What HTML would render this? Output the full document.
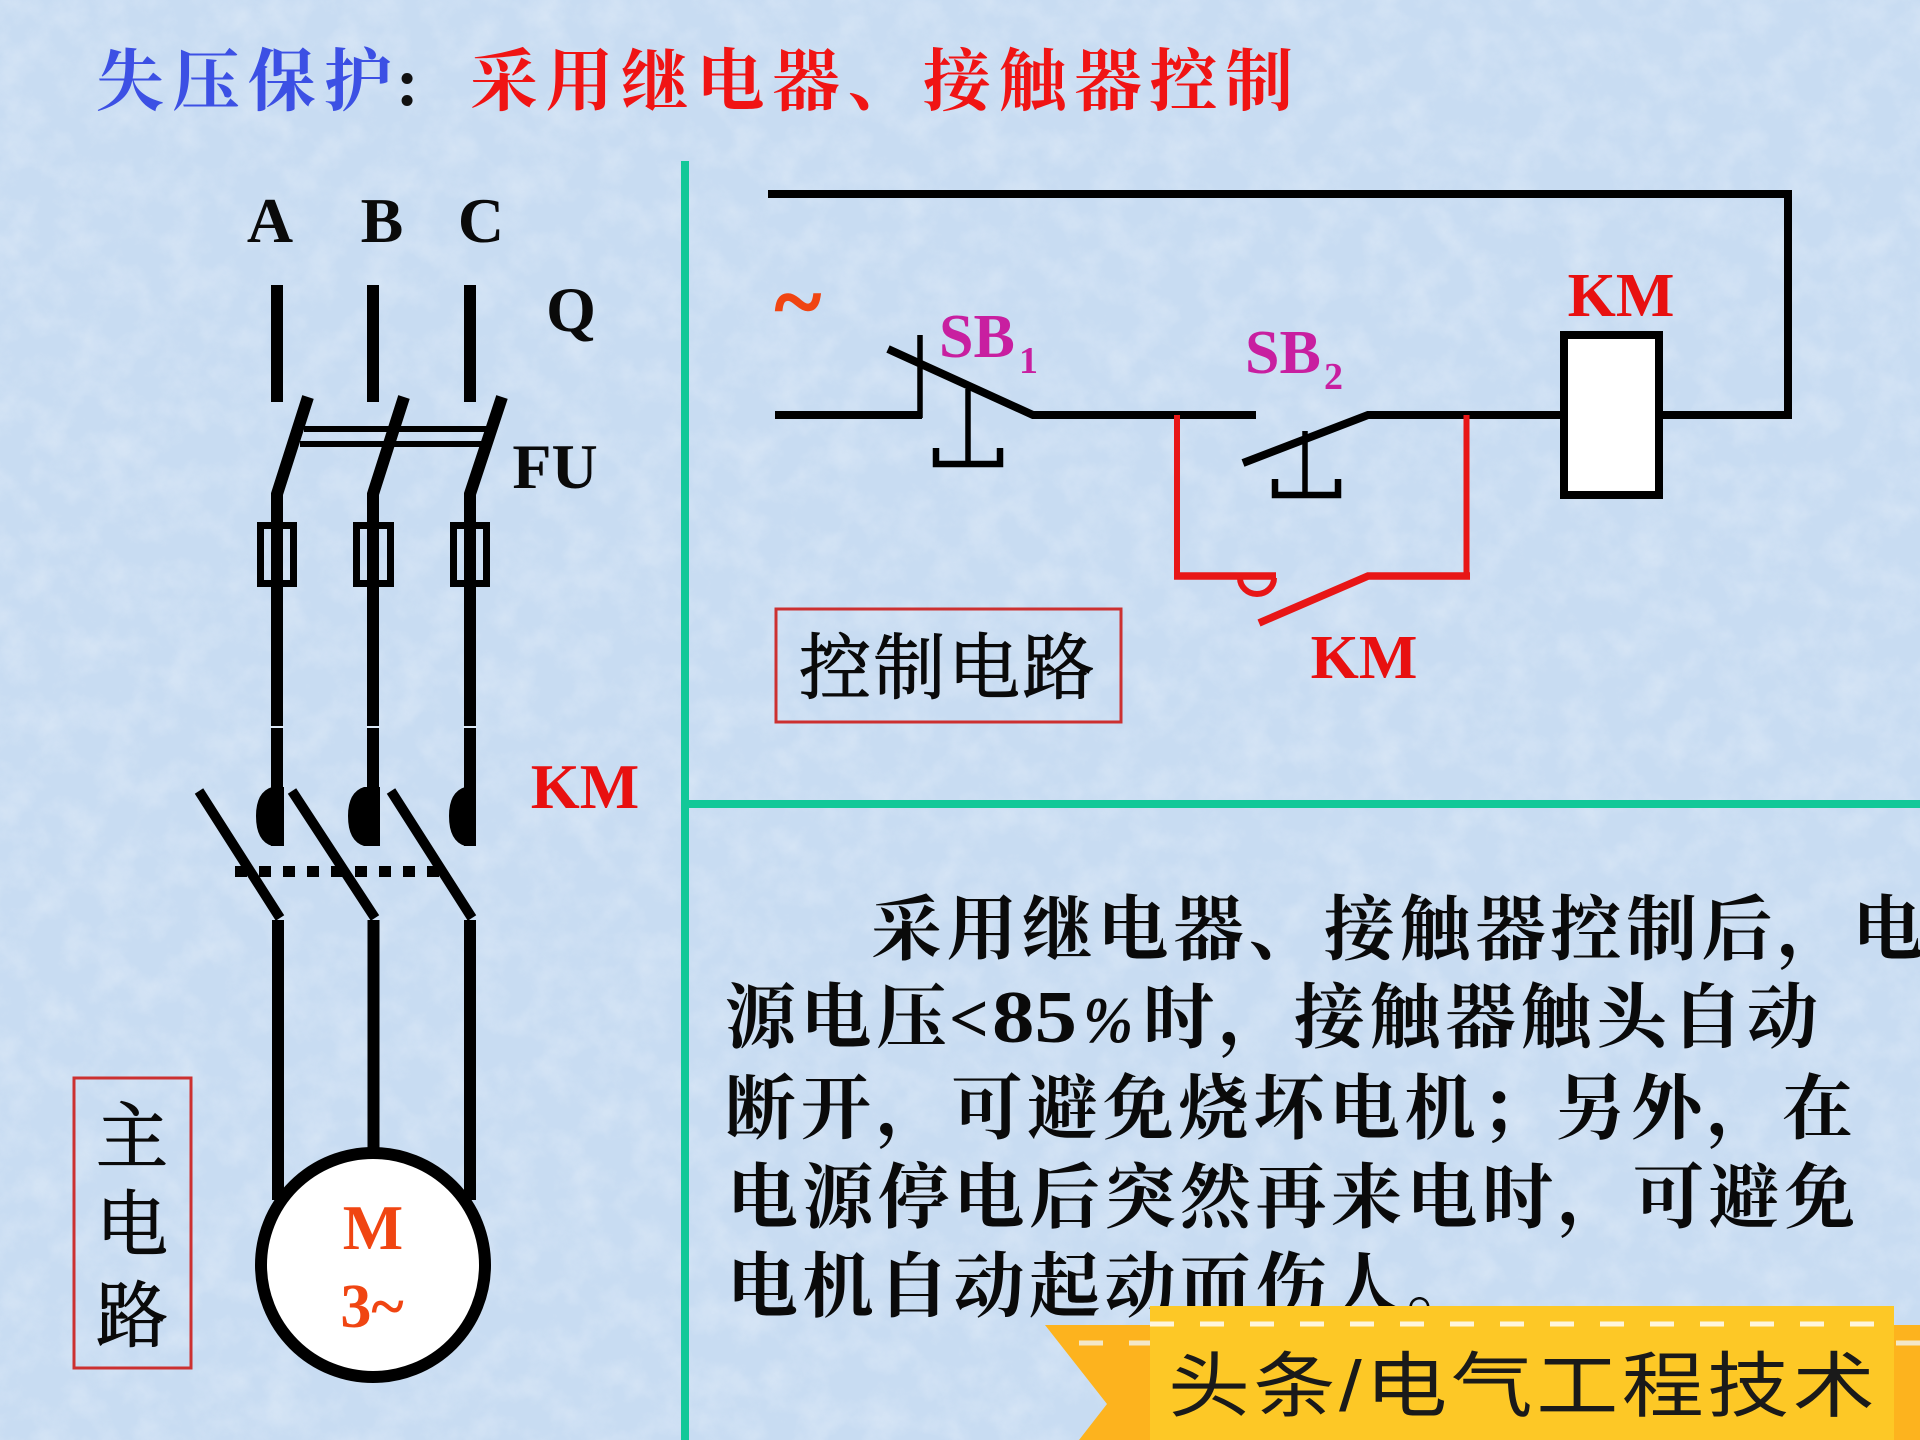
<!DOCTYPE html>
<html lang="zh">
<head>
<meta charset="utf-8">
<title>失压保护</title>
<style>
html,body{margin:0;padding:0;background:#c8dcf2;width:1920px;height:1440px;overflow:hidden}
svg{display:block}
.cn{font-family:"Liberation Serif","Noto Serif CJK SC",serif;font-weight:700}
.tb{font-family:"Liberation Serif","Noto Serif CJK SC",serif;font-weight:700}
.reg{font-family:"Liberation Serif","Noto Serif CJK SC",serif;font-weight:400;stroke:#0a0a0a;stroke-width:1.1px}
.body{font-size:71px;letter-spacing:4.500px;fill:#0a0a0a}
</style>
</head>
<body>
<svg width="1920" height="1440" viewBox="0 0 1920 1440" xmlns="http://www.w3.org/2000/svg">
<defs>
<filter id="tex" x="0" y="0" width="100%" height="100%">
<feTurbulence type="fractalNoise" baseFrequency="0.03" numOctaves="5" seed="7"/>
<feColorMatrix type="matrix" values="0 0 0 0 1  0 0 0 0 1  0 0 0 0 1  1.6 0 0 0 -0.62"/>
</filter>
</defs>
<rect width="1920" height="1440" fill="#c8dcf2"/>
<rect width="1920" height="1440" filter="url(#tex)" opacity=".3"/>

<!-- title -->
<text class="cn" x="96" y="105" font-size="68" letter-spacing="8" fill="#3c50e4">失压保护</text>
<text class="cn" x="396" y="105" font-size="68" fill="#111">:</text>
<text class="cn" x="470" y="105" font-size="68" letter-spacing="7.500" fill="#f01414">采用继电器、接触器控制</text>

<!-- green dividers -->
<rect x="681" y="161" width="8" height="1279" fill="#12c898"/>
<rect x="684" y="800" width="1236" height="8" fill="#12c898"/>

<!-- main circuit labels -->
<g class="tb" font-size="64" fill="#0a0a0a" text-anchor="middle">
<text x="270" y="242">A</text>
<text x="382" y="242">B</text>
<text x="481" y="242">C</text>
<text x="571" y="331">Q</text>
<text x="555" y="488">FU</text>
</g>
<text class="tb" x="585" y="808" font-size="63" fill="#e81010" text-anchor="middle">KM</text>

<!-- main circuit -->
<g fill="none" stroke="#000">
<g stroke-width="12">
<path d="M277 285V402M373 285V402M470 285V402"/>
<path d="M308 397L277 494V846M404 397L373 494V846M502 397L470 494V846"/>
<path d="M278 920V1200M373.500 920V1150M470 920V1200"/>
</g>
<path d="M304 429H489M300 444H486" stroke-width="6"/>
<path d="M260.500 525.500H293.500V583.500H260.500ZM356.500 525.500H390.500V583.500H356.500ZM453.500 525.500H486.500V583.500H453.500Z" stroke-width="7"/>
<path d="M199 791L280 918M292 791L375 918M391 791L472 918" stroke-width="10"/>
<path d="M235 871.500H440" stroke-width="11" stroke-dasharray="12 12"/>
</g>
<path d="M270 726h14v2h-14zM366 726h14v2h-14zM463 726h14v2h-14z" fill="#dbe8f6"/>
<path d="M284 787H272Q256 792 256 816Q256 841 272 846H284Z M380 787H364Q348 792 348 816Q348 841 364 846H380Z M476 787H465Q449 792 449 816Q449 841 465 846H476Z"/>
<circle cx="373" cy="1265" r="112" fill="#fff" stroke="#000" stroke-width="12"/>
<text class="tb" x="373" y="1249" font-size="64" fill="#f04512" text-anchor="middle">M</text>
<text class="tb" x="372" y="1327" font-size="62" fill="#f04512" text-anchor="middle">3~</text>

<!-- 主电路 box -->
<rect x="74" y="1078" width="117" height="290" fill="none" stroke="#cc3030" stroke-width="3"/>
<g class="reg" font-size="72" fill="#0a0a0a" text-anchor="middle">
<text x="132" y="1162">主</text>
<text x="132" y="1250">电</text>
<text x="132" y="1341">路</text>
</g>

<!-- control circuit black -->
<g fill="none" stroke="#000">
<path d="M768 194H1788V415H1663M1560 415H1368L1243 463M1256 415H1033L888 349M922 415H775" stroke-width="8"/>
<path d="M920 335V418M968 389V465" stroke-width="5.500"/>
<path d="M1305 431V496" stroke-width="5.500"/>
<path d="M936 448V464H1000V448M1275 479V495H1338V479" stroke-width="6.500"/>
<rect x="1564" y="335" width="95" height="160" fill="#fff" stroke-width="8"/>
</g>
<!-- control circuit red -->
<g fill="none" stroke="#e81616">
<path d="M1177 415V576M1466.500 415V576" stroke-width="6"/>
<path d="M1174 576H1276M1470 576H1368L1259 623" stroke-width="7.500"/>
<path d="M1240 578A17 16 0 0 0 1274 578" stroke-width="6"/>
</g>

<text class="tb" x="775" y="331" font-size="88" fill="#f04512" stroke="#f04512" stroke-width="1.500">~</text>
<g class="tb" fill="#c81fa0">
<text x="939" y="357" font-size="62">SB</text>
<text x="1019" y="373" font-size="38">1</text>
<text x="1245" y="373" font-size="62">SB</text>
<text x="1324" y="389" font-size="38">2</text>
</g>
<text class="tb" x="1621" y="316" font-size="62" fill="#e81010" text-anchor="middle">KM</text>
<text class="tb" x="1364" y="678" font-size="62" fill="#e81010" text-anchor="middle">KM</text>

<!-- 控制电路 box -->
<rect x="776" y="609" width="345" height="113" fill="none" stroke="#cc3030" stroke-width="3"/>
<text class="reg" x="799" y="693" font-size="72" letter-spacing="2.500" fill="#0a0a0a">控制电路</text>

<!-- paragraph -->
<g class="cn">
<text class="body" x="871" y="954">采用继电器、接触器控制后，电</text>
<text class="body" x="725" y="1042">源电压</text>
<text x="949" y="1042" font-size="70" fill="#0a0a0a">&lt;</text>
<text x="992" y="1042" font-size="74" textLength="85" lengthAdjust="spacingAndGlyphs" fill="#0a0a0a">85</text>
<text x="1083" y="1042" font-size="66" font-style="italic" textLength="50" lengthAdjust="spacingAndGlyphs" fill="#0a0a0a">%</text>
<text class="body" x="1143" y="1042">时，接触器触头自动</text>
<text class="body" x="725" y="1133">断开，可避免烧坏电机；另外，在</text>
<text class="body" x="727" y="1222">电源停电后突然再来电时，可避免</text>
<text class="body" x="727" y="1311">电机自动起动而伤人。</text>
</g>

<!-- banner -->
<polygon points="1045,1325 1920,1325 1920,1440 1079,1440 1107,1404" fill="#fdb31e"/>
<path d="M1079 1343H1150M1896 1343H1920" stroke="#f4e8c8" stroke-width="5" stroke-dasharray="24 26" fill="none"/>
<rect x="1150" y="1306" width="744" height="134" fill="#fdc826"/>
<path d="M1150 1324H1894" stroke="#fff6dc" stroke-width="5" stroke-dasharray="24 26" fill="none"/>
<text transform="translate(1168 1411) scale(1 .87)" font-family="'Liberation Sans','Noto Sans CJK SC',sans-serif" font-size="82" letter-spacing="3.500" fill="#1a1a1a">头条/电气工程技术</text>
</svg>
</body>
</html>
